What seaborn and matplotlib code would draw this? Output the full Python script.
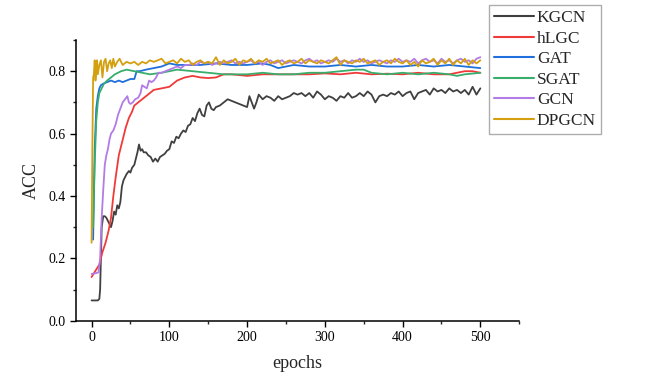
import numpy as np
import pandas as pd
import matplotlib
matplotlib.use("Agg")
import matplotlib.pyplot as plt
from matplotlib.ticker import MultipleLocator
import seaborn as sns

# values (epoch, ACC)
kgcn_x = [0, 4, 8, 10, 11, 12, 13, 15, 17, 19, 21, 23, 25, 27, 29, 31, 33, 35, 37, 39, 41, 43, 45, 48,
          50, 52, 55, 57, 59, 61, 63, 65, 67, 70, 73, 76, 79, 82, 85, 88, 91, 94, 97, 100, 103, 106, 109,
          112, 115, 118, 121, 124, 127, 130, 133, 136, 139, 142, 145, 148, 151, 154, 157, 160, 165, 170,
          175, 180, 185, 190, 195, 200, 203, 206, 209, 212, 215, 220, 225, 230, 235, 240, 245, 250, 255,
          260, 265, 270, 275, 280, 285, 290, 295, 300, 305, 310, 315, 320, 325, 330, 335, 340, 345, 350,
          355, 360, 365, 370, 375, 380, 385, 390, 395, 400, 405, 410, 415, 420, 425, 430, 435, 440, 445,
          450, 455, 460, 465, 470, 475, 480, 485, 490, 495, 500]
kgcn_y = [0.065, 0.065, 0.065, 0.07, 0.10, 0.20, 0.30, 0.335, 0.335, 0.33, 0.32, 0.31, 0.30, 0.32, 0.35,
          0.34, 0.37, 0.36, 0.38, 0.43, 0.45, 0.46, 0.47, 0.48, 0.475, 0.49, 0.50, 0.52, 0.54, 0.565, 0.545,
          0.55, 0.54, 0.54, 0.53, 0.525, 0.51, 0.52, 0.51, 0.525, 0.53, 0.535, 0.545, 0.55, 0.575, 0.57,
          0.59, 0.585, 0.60, 0.61, 0.605, 0.625, 0.63, 0.65, 0.64, 0.665, 0.68, 0.66, 0.655, 0.69, 0.70,
          0.68, 0.675, 0.685, 0.69, 0.70, 0.71, 0.705, 0.70, 0.695, 0.69, 0.685, 0.72, 0.70, 0.68, 0.70,
          0.725, 0.71, 0.72, 0.715, 0.705, 0.72, 0.71, 0.715, 0.72, 0.73, 0.725, 0.73, 0.72, 0.73, 0.715,
          0.735, 0.725, 0.71, 0.72, 0.715, 0.705, 0.72, 0.715, 0.73, 0.715, 0.72, 0.73, 0.72, 0.735, 0.725,
          0.70, 0.72, 0.725, 0.72, 0.73, 0.725, 0.735, 0.72, 0.73, 0.735, 0.71, 0.73, 0.735, 0.74, 0.725,
          0.745, 0.735, 0.74, 0.73, 0.745, 0.735, 0.74, 0.73, 0.74, 0.725, 0.75, 0.725, 0.745]

hlgc_x = [0, 5, 10, 14, 18, 22, 25, 28, 31, 35, 40, 44, 48, 52, 55, 60, 65, 70, 75, 80, 90, 100, 110,
          120, 130, 140, 150, 160, 170, 180, 200, 220, 240, 260, 280, 300, 320, 340, 360, 380, 400, 420,
          440, 460, 480, 490, 500]
hlgc_y = [0.14, 0.16, 0.18, 0.22, 0.25, 0.29, 0.33, 0.40, 0.46, 0.53, 0.58, 0.62, 0.65, 0.67, 0.69,
          0.70, 0.71, 0.72, 0.73, 0.74, 0.745, 0.75, 0.77, 0.78, 0.785, 0.78, 0.778, 0.78, 0.79, 0.79,
          0.785, 0.79, 0.79, 0.79, 0.79, 0.793, 0.79, 0.795, 0.79, 0.792, 0.79, 0.795, 0.79, 0.79, 0.80,
          0.80, 0.795]

gat_x = [2, 4, 6, 8, 10, 12, 15, 20, 25, 30, 35, 40, 45, 50, 55, 58, 62, 70, 80, 90, 100, 110, 120, 140,
         160, 180, 200, 220, 230, 240, 250, 260, 280, 300, 320, 340, 360, 380, 400, 420, 440, 460, 480, 500]
gat_y = [0.26, 0.55, 0.68, 0.72, 0.745, 0.755, 0.76, 0.765, 0.77, 0.765, 0.77, 0.765, 0.77, 0.775,
         0.775, 0.80, 0.80, 0.805, 0.81, 0.815, 0.825, 0.82, 0.82, 0.82, 0.825, 0.82, 0.82, 0.825, 0.82,
         0.81, 0.815, 0.82, 0.815, 0.815, 0.82, 0.815, 0.82, 0.815, 0.815, 0.82, 0.815, 0.82, 0.815, 0.81]

sgat_x = [2, 4, 6, 8, 10, 13, 16, 20, 25, 30, 38, 45, 55, 65, 75, 90, 110, 130, 150, 170, 200, 220, 240,
          260, 280, 300, 320, 340, 350, 360, 380, 400, 420, 440, 460, 470, 480, 500]
sgat_y = [0.30, 0.50, 0.64, 0.70, 0.73, 0.745, 0.76, 0.77, 0.78, 0.79, 0.80, 0.805, 0.80, 0.795, 0.79,
          0.795, 0.805, 0.80, 0.795, 0.79, 0.79, 0.795, 0.79, 0.79, 0.795, 0.795, 0.80, 0.805, 0.805, 0.795,
          0.79, 0.795, 0.79, 0.795, 0.79, 0.785, 0.79, 0.795]

gcn_x = [0, 5, 9, 11, 13, 15, 17, 19, 21, 23, 25, 28, 31, 34, 37, 40, 43, 46, 48, 50, 53, 56, 60, 63, 65,
         68, 71, 74, 77, 80, 83, 86, 90, 95, 100, 105, 110, 115, 120, 125, 130, 135, 140, 145, 150, 155,
         160, 165, 170, 175, 180, 185, 190, 195, 200, 205, 210, 215, 220, 225, 230, 235, 240, 245, 250,
         255, 260, 265, 270, 275, 280, 285, 290, 295, 300, 305, 310, 315, 320, 325, 330, 335, 340, 345,
         350, 355, 360, 365, 370, 375, 380, 385, 390, 395, 400, 405, 410, 415, 420, 425, 430, 435, 440,
         445, 450, 455, 460, 465, 470, 475, 480, 485, 490, 495, 500]
gcn_y = [0.15, 0.152, 0.155, 0.20, 0.33, 0.42, 0.50, 0.53, 0.55, 0.58, 0.60, 0.61, 0.63, 0.66, 0.68,
         0.70, 0.71, 0.72, 0.70, 0.695, 0.70, 0.71, 0.715, 0.73, 0.755, 0.75, 0.745, 0.77, 0.765, 0.77,
         0.78, 0.795, 0.795, 0.80, 0.805, 0.81, 0.815, 0.81, 0.82, 0.82, 0.825, 0.82, 0.83, 0.825, 0.83,
         0.82, 0.825, 0.83, 0.825, 0.83, 0.835, 0.825, 0.83, 0.825, 0.83, 0.835, 0.825, 0.83, 0.82, 0.83,
         0.835, 0.825, 0.83, 0.835, 0.825, 0.83, 0.835, 0.83, 0.825, 0.835, 0.84, 0.83, 0.835, 0.825,
         0.83, 0.835, 0.83, 0.84, 0.83, 0.835, 0.825, 0.835, 0.83, 0.84, 0.83, 0.835, 0.825, 0.83, 0.835,
         0.83, 0.825, 0.835, 0.83, 0.84, 0.83, 0.835, 0.83, 0.84, 0.825, 0.835, 0.84, 0.83, 0.835, 0.825,
         0.84, 0.83, 0.835, 0.825, 0.835, 0.84, 0.83, 0.835, 0.825, 0.84, 0.845]

dpgcn_x = [0, 1, 2, 3, 4, 5, 6, 7, 8, 10, 12, 14, 16, 18, 20, 22, 24, 26, 28, 30, 33, 36, 40, 45,
           50, 55, 60, 65, 70, 75, 80, 85, 90, 95, 100, 105, 110, 115, 120, 125, 130, 135, 140, 145, 150,
           155, 160, 165, 170, 175, 180, 185, 190, 195, 200, 205, 210, 215, 220, 225, 230, 235, 240, 245,
           250, 255, 260, 265, 270, 275, 280, 285, 290, 295, 300, 305, 310, 315, 320, 325, 330, 335, 340,
           345, 350, 355, 360, 365, 370, 375, 380, 385, 390, 395, 400, 405, 410, 415, 420, 425, 430, 435,
           440, 445, 450, 455, 460, 465, 470, 475, 480, 485, 490, 495, 500]
dpgcn_y = [0.25, 0.55, 0.78, 0.79, 0.835, 0.77, 0.80, 0.835, 0.79, 0.82, 0.835, 0.78, 0.83, 0.84, 0.80,
           0.825, 0.835, 0.81, 0.84, 0.815, 0.83, 0.84, 0.82, 0.83, 0.825, 0.83, 0.82, 0.83, 0.825, 0.835,
           0.83, 0.835, 0.84, 0.825, 0.83, 0.835, 0.825, 0.84, 0.83, 0.835, 0.82, 0.83, 0.835, 0.825, 0.83,
           0.825, 0.845, 0.82, 0.835, 0.825, 0.83, 0.84, 0.82, 0.835, 0.83, 0.84, 0.825, 0.835, 0.83, 0.84,
           0.825, 0.83, 0.835, 0.82, 0.83, 0.835, 0.825, 0.83, 0.84, 0.825, 0.835, 0.83, 0.825, 0.835, 0.83,
           0.825, 0.835, 0.845, 0.82, 0.835, 0.83, 0.825, 0.835, 0.83, 0.84, 0.825, 0.83, 0.835, 0.82, 0.83,
           0.835, 0.825, 0.84, 0.83, 0.825, 0.835, 0.82, 0.83, 0.815, 0.835, 0.825, 0.83, 0.84, 0.82, 0.835,
           0.825, 0.84, 0.82, 0.835, 0.825, 0.84, 0.82, 0.835, 0.825, 0.835]

names = ["KGCN", "hLGC", "GAT", "SGAT", "GCN", "DPGCN"]
xs = [kgcn_x, hlgc_x, gat_x, sgat_x, gcn_x, dpgcn_x]
ys = [kgcn_y, hlgc_y, gat_y, sgat_y, gcn_y, dpgcn_y]
colors = ["#404040", "#f03a3a", "#1f6fdc", "#38ad6c", "#b27be6", "#d4a010"]

frames = []
for n, x, y in zip(names, xs, ys):
    frames.append(pd.DataFrame({"epochs": x, "ACC": y, "model": n}))
df = pd.concat(frames, ignore_index=True)

sns.set_style("ticks")
plt.rcParams["font.family"] = ["Liberation Serif", "DejaVu Serif"]

fig = plt.figure(figsize=(6.47, 3.74), dpi=100)
ax = fig.add_axes([0.1175, 0.1425, 0.685, 0.7505])

sns.lineplot(data=df, x="epochs", y="ACC", hue="model", hue_order=names,
             palette=dict(zip(names, colors)), linewidth=1.3, ax=ax, estimator=None, sort=False)

ax.set_xlim(-20, 550)
ax.set_ylim(0, 0.9)
ax.xaxis.set_major_locator(MultipleLocator(100))
ax.xaxis.set_minor_locator(MultipleLocator(50))
ax.yaxis.set_major_locator(MultipleLocator(0.2))
ax.yaxis.set_minor_locator(MultipleLocator(0.1))
ax.yaxis.set_major_formatter(matplotlib.ticker.FormatStrFormatter("%.1f"))
ax.tick_params(axis="both", which="major", labelsize=10, length=4, width=1, direction="out", colors="black")
ax.tick_params(axis="both", which="minor", length=2.5, width=1, direction="out")
sns.despine(ax=ax)
for s in ["left", "bottom"]:
    ax.spines[s].set_linewidth(1.1)
    ax.spines[s].set_color("black")
ax.set_xlabel("epochs", fontsize=13, labelpad=8)
ax.set_ylabel("ACC", fontsize=13, labelpad=6)

handles, labels = ax.get_legend_handles_labels()
leg = ax.legend(handles, labels, loc="upper left", bbox_to_anchor=(0.756, 0.987),
                bbox_transform=fig.transFigure, borderaxespad=0, fontsize=12.5,
                frameon=True, fancybox=False, edgecolor="#999999", handlelength=2.3,
                handletextpad=0.15, labelspacing=0.25, borderpad=0.3)
leg.get_frame().set_linewidth(1.0)
for line in leg.get_lines():
    line.set_linewidth(1.5)

fig.savefig("out.png", dpi=100)
